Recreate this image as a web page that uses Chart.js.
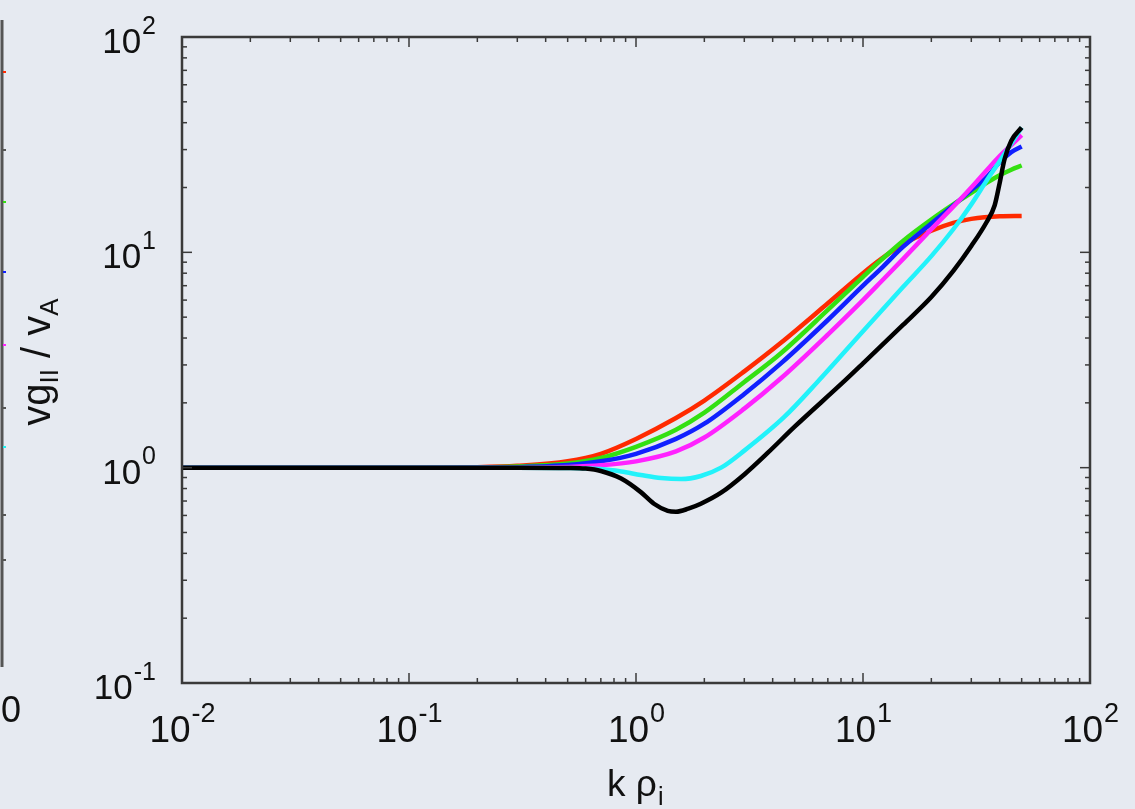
<!DOCTYPE html>
<html>
<head>
<meta charset="utf-8">
<script src="https://cdn.jsdelivr.net/npm/chart.js@4.4.1/dist/chart.umd.min.js"></script>
<style>
  body { margin: 0; background: #e6eaf1; }
  #wrap { width: 1135px; height: 809px; }
</style>
</head>
<body>
<div id="wrap"><canvas id="chart" width="1135" height="809"></canvas></div>
<script>
// k rho_i (x) and vg_par / v_A (y)
var redK = [0.01, 0.1, 0.2, 0.3, 0.5, 0.7, 1, 1.5, 2, 3, 4.35, 7, 10, 12, 15, 20, 25, 30, 40, 50];
var redV = [1, 1, 1.005, 1.02, 1.07, 1.16, 1.36, 1.7, 2.05, 2.8, 3.8, 5.8, 8.0, 9.3, 10.9, 12.6, 13.7, 14.3, 14.7, 14.75];

var greenK = [0.01, 0.1, 0.2, 0.3, 0.5, 0.7, 1, 1.5, 2, 3, 4.35, 7, 10, 12, 15, 20, 25, 30, 35, 40, 45, 50];
var greenV = [1, 1, 1.003, 1.012, 1.045, 1.11, 1.25, 1.5, 1.8, 2.5, 3.4, 5.4, 7.7, 9.2, 11.3, 14.2, 16.7, 18.9, 21, 22.8, 24.2, 25.3];

var blueK = [0.01, 0.1, 0.2, 0.3, 0.5, 0.7, 1, 1.5, 2, 3, 4.35, 7, 10, 12, 15, 20, 25, 30, 35, 40, 45, 50];
var blueV = [1, 1, 1.001, 1.005, 1.028, 1.07, 1.16, 1.36, 1.6, 2.2, 3.05, 4.85, 7.0, 8.4, 10.6, 13.6, 16.5, 19.5, 22.3, 26.2, 29.2, 31];

var magK = [0.01, 0.1, 0.3, 0.5, 0.7, 1, 1.5, 2, 3, 4.35, 7, 10, 12, 15, 20, 25, 30, 35, 40, 45, 50];
var magV = [1, 1, 1, 1.008, 1.025, 1.07, 1.19, 1.38, 1.88, 2.6, 4.15, 6.0, 7.3, 9.3, 12.8, 16.3, 20, 24, 28, 31.5, 35];

var cyanK = [0.01, 0.1, 0.3, 0.5, 0.7, 0.86, 1.05, 1.29, 1.58, 1.93, 2.37, 3, 4.5, 6.3, 10, 15, 20, 25, 30, 35, 40, 45, 50];
var cyanV = [1, 1, 1, 0.997, 0.985, 0.96, 0.925, 0.895, 0.885, 0.915, 1.0, 1.2, 1.72, 2.5, 4.3, 6.9, 9.6, 12.8, 16.7, 21.5, 26.5, 32, 38];

var blackK = [0.01, 0.1, 0.3, 0.5, 0.6, 0.7, 0.86, 1.05, 1.2, 1.38, 1.5, 1.7, 1.93, 2.37, 3, 3.8, 5, 8.2, 10, 15, 20, 25, 30, 35, 38, 40, 42, 45, 50];
var blackV = [1, 1, 1, 0.997, 0.99, 0.965, 0.89, 0.77, 0.68, 0.63, 0.624, 0.645, 0.68, 0.765, 0.93, 1.17, 1.55, 2.5, 3.05, 4.6, 6.2, 8.2, 10.7, 13.8, 16.5, 21, 27, 33, 38];

var xTicks = [0.01, 0.1, 1, 10, 100];
var xExps = ["-2", "-1", "0", "1", "2"];
var yTicks = [0.1, 1, 10, 100];
var yExps = ["-1", "0", "1", "2"];

function pts(k, v) {
  var out = [];
  for (var i = 0; i < k.length; i++) out.push({ x: k[i], y: v[i] });
  return out;
}

function series(k, v, color, order) {
  return {
    data: pts(k, v),
    borderColor: color,
    borderWidth: 4.5,
    pointRadius: 0,
    fill: false,
    cubicInterpolationMode: "monotone",
    order: order
  };
}

var FONT = '"Liberation Sans", Arial, Helvetica, sans-serif';

function line(ctx, x1, y1, x2, y2) {
  ctx.beginPath();
  ctx.moveTo(x1, y1);
  ctx.lineTo(x2, y2);
  ctx.stroke();
}

// "10" with a superscript exponent
function pow10(ctx, x, y, exp, size, align) {
  ctx.font = size + "px " + FONT;
  var w1 = ctx.measureText("10").width;
  ctx.font = Math.round(size * 0.72) + "px " + FONT;
  var w2 = ctx.measureText(exp).width;
  var left = align == "center" ? x - (w1 + w2) / 2 : x - w1 - w2;
  ctx.textAlign = "left";
  ctx.textBaseline = "alphabetic";
  ctx.font = size + "px " + FONT;
  ctx.fillText("10", left, y);
  ctx.font = Math.round(size * 0.72) + "px " + FONT;
  ctx.fillText(exp, left + w1 + 1, y - size * 0.55);
}

var frame = {
  id: "frame",
  afterDatasetsDraw: function(chart) {
    var ctx = chart.ctx, a = chart.chartArea;
    var xs = chart.scales.x, ys = chart.scales.y;
    ctx.save();
    ctx.strokeStyle = "#3a3a3a";
    ctx.lineWidth = 1.5;
    for (var e = -2; e < 2; e++) {
      for (var m = 1; m < 10; m++) {
        var v = m * Math.pow(10, e);
        var len = m == 1 ? 10 : 5;
        var px = xs.getPixelForValue(v);
        line(ctx, px, a.bottom, px, a.bottom - len);
        line(ctx, px, a.top, px, a.top + len);
        if (e > -2) {
          var py = ys.getPixelForValue(v);
          line(ctx, a.left, py, a.left + len, py);
          line(ctx, a.right, py, a.right - len, py);
        }
      }
    }
    ctx.lineWidth = 2.5;
    ctx.strokeRect(a.left, a.top, a.right - a.left, a.bottom - a.top);
    ctx.restore();
  },
  afterDraw: function(chart) {
    var ctx = chart.ctx, a = chart.chartArea;
    var xs = chart.scales.x, ys = chart.scales.y;
    ctx.save();
    ctx.fillStyle = "#111";
    for (var i = 0; i < xTicks.length; i++) {
      pow10(ctx, xs.getPixelForValue(xTicks[i]), 742, xExps[i], 37, "center");
    }
    for (var j = 0; j < yTicks.length; j++) {
      pow10(ctx, 155, ys.getPixelForValue(yTicks[j]) + 16, yExps[j], 35, "right");
    }
    // x title: k rho_i
    ctx.textAlign = "left";
    ctx.font = "37px " + FONT;
    var t = "k \u03c1";
    var tw = ctx.measureText(t).width;
    var cx = (a.left + a.right) / 2 - tw / 2 - 4;
    ctx.fillText(t, cx, 796);
    ctx.font = "25px " + FONT;
    ctx.fillText("i", cx + tw + 1, 805);
    // y title: vg_|| / v_A
    ctx.translate(50, (a.top + a.bottom) / 2 + 2);
    ctx.rotate(-Math.PI / 2);
    var parts = [["vg", 40, 0], ["II", 26, 8], [" / v", 40, 0], ["A", 26, 8]];
    var total = 0;
    parts.forEach(function(p) { ctx.font = p[1] + "px " + FONT; total += ctx.measureText(p[0]).width; });
    var x0 = -total / 2;
    parts.forEach(function(p) {
      ctx.font = p[1] + "px " + FONT;
      ctx.fillText(p[0], x0, p[2]);
      x0 += ctx.measureText(p[0]).width;
    });
    ctx.restore();

    // edge of the neighbouring plot on the left
    ctx.save();
    ctx.strokeStyle = "#555";
    ctx.lineWidth = 3;
    line(ctx, 2, 20, 2, 667);
    var marks = [[72, "#ff2a00"], [150, "#555"], [202, "#33dd11"], [272, "#1020ff"], [345, "#ff22ff"], [408, "#555"], [447, "#22eeee"], [515, "#555"], [560, "#555"]];
    ctx.lineWidth = 2;
    marks.forEach(function(mk) { ctx.strokeStyle = mk[1]; line(ctx, 3, mk[0], 6, mk[0]); });
    ctx.fillStyle = "#111";
    ctx.font = "36px " + FONT;
    ctx.textAlign = "left";
    ctx.fillText("0", 1, 722);
    ctx.restore();
  }
};

var chart = new Chart(document.getElementById("chart").getContext("2d"), {
  type: "line",
  data: {
    datasets: [
      series(redK, redV, "#ff2a00", 6),
      series(greenK, greenV, "#33e011", 5),
      series(blueK, blueV, "#1020ff", 4),
      series(magK, magV, "#ff22ff", 3),
      series(cyanK, cyanV, "#22f2fa", 2),
      series(blackK, blackV, "#000000", 1)
    ]
  },
  options: {
    responsive: false,
    animation: false,
    devicePixelRatio: 1,
    layout: { padding: { left: 182, right: 45, top: 37, bottom: 126 } },
    plugins: { legend: { display: false }, tooltip: { enabled: false } },
    scales: {
      x: { type: "logarithmic", min: 0.01, max: 100, display: false },
      y: { type: "logarithmic", min: 0.1, max: 100, display: false }
    }
  },
  plugins: [frame]
});
</script>
</body>
</html>
